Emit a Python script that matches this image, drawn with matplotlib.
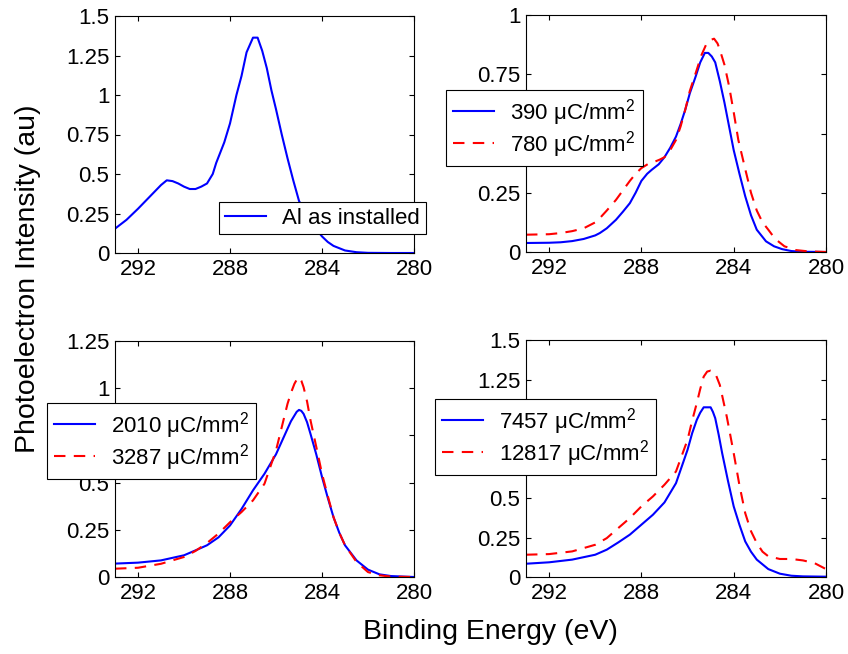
import matplotlib
matplotlib.use("Agg")
import matplotlib.pyplot as plt

plt.rcParams["font.family"] = ["Liberation Sans", "DejaVu Sans"]
plt.rcParams["mathtext.fontset"] = "custom"
plt.rcParams["mathtext.rm"] = "Liberation Sans"
plt.rcParams["mathtext.default"] = "regular"

# --- data (binding energy eV, intensity au) ---
e_al = [293.0, 292.5, 292.0, 291.5, 291.0, 290.75, 290.5, 290.25, 290.0, 289.75,
        289.5, 289.25, 289.0, 288.75, 288.6, 288.25, 288.0, 287.72, 287.5, 287.28,
        287.0, 286.8, 286.6, 286.4, 286.2, 286.0, 285.75, 285.5, 285.25, 285.0,
        284.75, 284.5, 284.25, 284.0, 283.75, 283.5, 283.0, 282.5, 282.0, 281.0, 280.0]
i_al = [0.154, 0.21, 0.28, 0.355, 0.43, 0.46, 0.455, 0.44, 0.42, 0.405,
        0.405, 0.42, 0.44, 0.50, 0.57, 0.70, 0.82, 1.0, 1.12, 1.27,
        1.363, 1.363, 1.28, 1.17, 1.03, 0.91, 0.75, 0.60, 0.46, 0.33,
        0.26, 0.20, 0.15, 0.105, 0.07, 0.045, 0.016, 0.005, 0.001, 0.0, 0.0]

e_390 = [293.0, 292.0, 291.5, 291.0, 290.5, 290.0, 289.8, 289.5, 289.1, 288.8, 288.5,
         288.25, 288.0, 287.75, 287.55, 287.25, 287.0, 286.75, 286.5, 286.3, 286.1,
         285.9, 285.65, 285.45, 285.25, 285.1, 284.95, 284.8, 284.6, 284.4, 284.2,
         284.0, 283.75, 283.5, 283.25, 283.0, 282.6, 282.25, 281.9, 281.5, 281.0, 280.0]
i_390 = [0.038, 0.039, 0.041, 0.046, 0.055, 0.07, 0.08, 0.10, 0.136, 0.17, 0.206,
         0.25, 0.30, 0.33, 0.347, 0.37, 0.40, 0.44, 0.487, 0.54, 0.60,
         0.67, 0.74, 0.80, 0.84, 0.84, 0.825, 0.80, 0.72, 0.63, 0.53,
         0.43, 0.33, 0.235, 0.155, 0.094, 0.045, 0.024, 0.012, 0.004, 0.001, 0.0]
e_780 = [293.0, 292.0, 291.5, 291.0, 290.5, 290.0, 289.8, 289.5, 289.1, 288.8, 288.5,
         288.25, 288.0, 287.7, 287.4, 287.2, 287.0, 286.75, 286.5, 286.3, 286.1,
         285.9, 285.65, 285.4, 285.2, 285.0, 284.85, 284.7, 284.6, 284.4, 284.2,
         284.0, 283.8, 283.5, 283.25, 283.0, 282.75, 282.5, 282.2, 281.8, 281.3,
         280.8, 280.0]
i_780 = [0.073, 0.075, 0.08, 0.088, 0.10, 0.125, 0.143, 0.175, 0.22, 0.26, 0.30,
         0.33, 0.354, 0.372, 0.382, 0.39, 0.40, 0.43, 0.473, 0.53, 0.60,
         0.68, 0.754, 0.83, 0.874, 0.895, 0.90, 0.88, 0.853, 0.79, 0.70,
         0.59, 0.473, 0.35, 0.25, 0.175, 0.125, 0.094, 0.055, 0.024, 0.008,
         0.003, 0.0]

e_2010 = [293.0, 292.0, 291.0, 290.0, 289.5, 289.0, 288.5, 288.0, 287.5, 287.0, 286.5,
          286.0, 285.5, 285.35, 285.2, 285.1, 285.0, 284.9, 284.8, 284.65, 284.5,
          284.25, 284.0, 283.75, 283.5, 283.25, 283.0, 282.5, 282.0, 281.5, 281.0, 280.0]
i_2010 = [0.071, 0.076, 0.088, 0.115, 0.141, 0.168, 0.21, 0.273, 0.36, 0.459, 0.547,
          0.65, 0.785, 0.825, 0.855, 0.875, 0.885, 0.88, 0.864, 0.82, 0.758,
          0.65, 0.53, 0.42, 0.317, 0.235, 0.168, 0.088, 0.039, 0.014, 0.005, 0.0]
e_3287 = [293.0, 292.0, 291.0, 290.0, 289.5, 289.0, 288.5, 288.0, 287.5, 287.0, 286.5,
          286.2, 286.0, 285.5, 285.35, 285.2, 285.1, 285.0, 284.9, 284.8, 284.65,
          284.5, 284.25, 284.0, 283.75, 283.5, 283.25, 283.0, 282.5, 282.0, 281.5,
          281.0, 280.0]
i_3287 = [0.044, 0.049, 0.07, 0.106, 0.138, 0.18, 0.23, 0.29, 0.344, 0.406, 0.494,
          0.60, 0.67, 0.917, 0.975, 1.023, 1.045, 1.058, 1.04, 1.005, 0.93,
          0.83, 0.69, 0.547, 0.43, 0.317, 0.235, 0.168, 0.08, 0.026, 0.009,
          0.002, 0.0]

e_7457 = [293.0, 292.0, 291.0, 290.0, 289.5, 289.0, 288.5, 288.0, 287.5, 287.0, 286.5,
          286.0, 285.8, 285.6, 285.45, 285.3, 285.0, 284.9, 284.8, 284.65, 284.5,
          284.25, 284.0, 283.75, 283.5, 283.25, 283.0, 282.5, 282.0, 281.5, 281.0, 280.0]
i_7457 = [0.084, 0.093, 0.11, 0.141, 0.173, 0.219, 0.268, 0.331, 0.394, 0.472, 0.594,
          0.805, 0.91, 0.994, 1.04, 1.074, 1.074, 1.045, 1.005, 0.90, 0.784,
          0.61, 0.447, 0.33, 0.225, 0.16, 0.11, 0.05, 0.021, 0.008, 0.004, 0.002]
e_12817 = [293.0, 292.0, 291.0, 290.0, 289.5, 289.0, 288.5, 288.0, 287.5, 287.0, 286.5,
           286.0, 285.8, 285.6, 285.45, 285.3, 285.15, 285.0, 284.9, 284.8, 284.6,
           284.3, 284.15, 284.0, 283.75, 283.5, 283.25, 283.0, 282.75, 282.5, 282.0,
           281.5, 281.0, 280.5, 280.0]
i_12817 = [0.141, 0.145, 0.162, 0.204, 0.246, 0.31, 0.373, 0.447, 0.51, 0.584, 0.668,
           0.868, 0.99, 1.10, 1.19, 1.268, 1.30, 1.306, 1.30, 1.29, 1.215,
           1.015, 0.90, 0.784, 0.58, 0.404, 0.29, 0.215, 0.16, 0.131, 0.114,
           0.114, 0.105, 0.088, 0.05]

x_ticks = [292, 288, 284, 280]
y_ticks_tl = [0, 0.25, 0.5, 0.75, 1, 1.25, 1.5]
y_ticks_tr = [0, 0.25, 0.5, 0.75, 1]
y_ticks_bl = [0, 0.25, 0.5, 0.75, 1, 1.25]
y_ticks_br = [0, 0.25, 0.5, 0.75, 1, 1.25, 1.5]

W, H = 848, 654
fig = plt.figure(figsize=(W / 100, H / 100), dpi=100)


def px_axes(l, t, r, b):
    return fig.add_axes([l / W, 1 - b / H, (r - l) / W, (b - t) / H])


def style(ax, yt):
    ax.set_xlim(293, 280)
    ax.set_ylim(yt[0], yt[-1])
    ax.set_xticks(x_ticks)
    ax.set_yticks(yt)
    ax.set_yticklabels(["%g" % v for v in yt])
    ax.tick_params(direction="in", length=3.5, width=0.8, top=True, right=True,
                   labelsize=16, pad=4, colors="black")
    for s in ax.spines.values():
        s.set_linewidth(0.8)


def leg(ax, x, y, **kw):
    lg = ax.legend(loc="upper left", bbox_to_anchor=(x / W, 1 - y / H),
                   bbox_transform=fig.transFigure, borderaxespad=0,
                   fontsize=16, fancybox=False, framealpha=1, edgecolor="black",
                   handlelength=1.85, handletextpad=0.75, **kw)
    lg.get_frame().set_linewidth(0.8)
    return lg


DASH = (5.5, 4)
BLUE, RED = "#0000ff", "#ff0000"

ax1 = px_axes(115, 16, 414, 253)
ax1.plot(e_al, i_al, color=BLUE, lw=1.5, label="Al as installed")
style(ax1, y_ticks_tl)
leg(ax1, 219, 202, borderpad=0.25)

ax2 = px_axes(526, 15, 826, 252)
ax2.plot(e_390, i_390, color=BLUE, lw=1.5, label="390 μC/mm$^2$")
ax2.plot(e_780, i_780, color=RED, lw=1.5, dashes=DASH, label="780 μC/mm$^2$")
style(ax2, y_ticks_tr)
leg(ax2, 446, 90, borderpad=0.3, labelspacing=0.05)

ax3 = px_axes(115, 341, 414, 577)
ax3.plot(e_2010, i_2010, color=BLUE, lw=1.5, label="2010 μC/mm$^2$")
ax3.plot(e_3287, i_3287, color=RED, lw=1.5, dashes=DASH, label="3287 μC/mm$^2$")
style(ax3, y_ticks_bl)
leg(ax3, 47, 403, borderpad=0.3, labelspacing=0.05)

ax4 = px_axes(526, 340, 826, 577)
ax4.plot(e_7457, i_7457, color=BLUE, lw=1.5, label="7457 μC/mm$^2$")
ax4.plot(e_12817, i_12817, color=RED, lw=1.5, dashes=DASH, label="12817 μC/mm$^2$")
style(ax4, y_ticks_br)
leg(ax4, 435, 399, borderpad=0.3, labelspacing=0.05)

fig.text(28 / W, 1 - 279 / H, "Photoelectron Intensity (au)", rotation=90,
         ha="center", va="center", fontsize=20.5)
fig.text(490 / W, 1 - 632 / H, "Binding Energy (eV)", ha="center", va="center",
         fontsize=20.5)

fig.savefig("out.png", dpi=100)
